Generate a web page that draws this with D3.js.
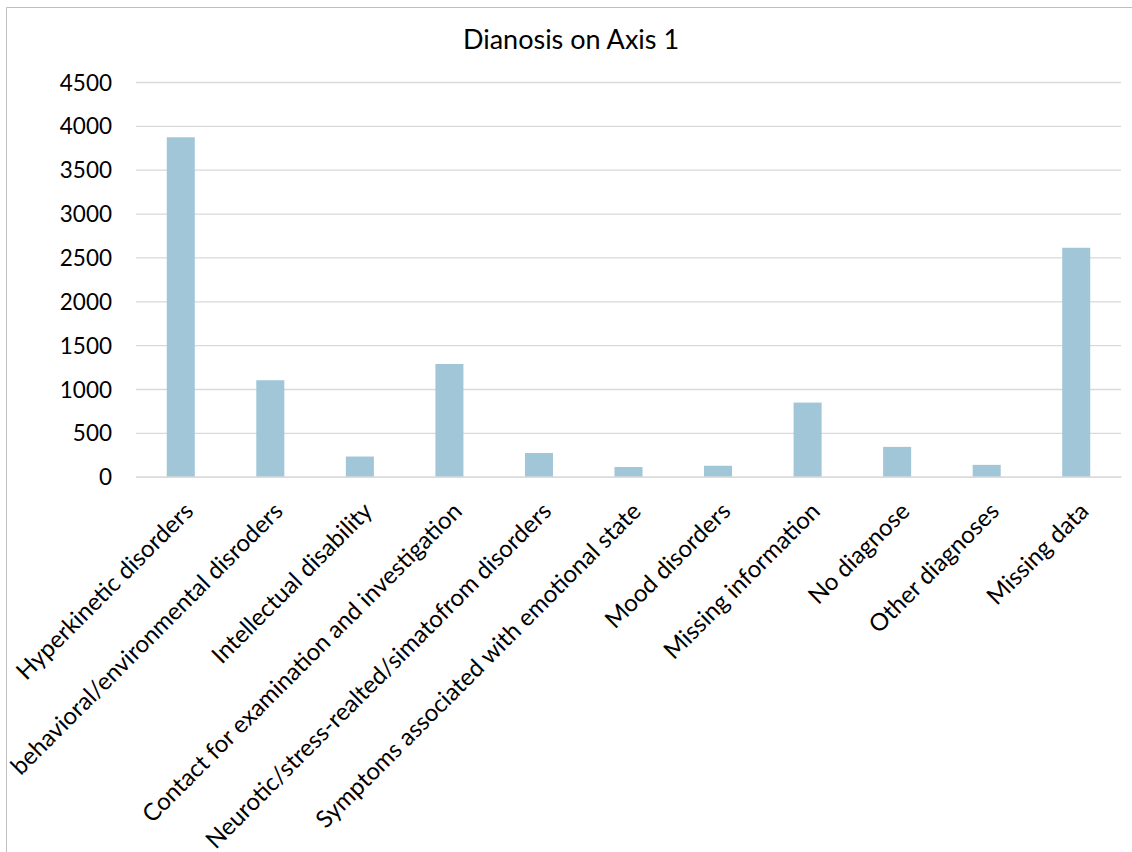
<!DOCTYPE html>
<html>
<head>
<meta charset="utf-8">
<script src="https://cdn.jsdelivr.net/npm/d3@7"></script>
<style>
  html, body { margin: 0; padding: 0; background: #fff; }
  svg { display: block; }
  text { font-family: Lato, "Liberation Sans", sans-serif; fill: #000; }
</style>
</head>
<body>
<div id="chart"></div>
<script>
// Diagnosis counts on Axis 1
const categories = [
  "Hyperkinetic disorders",
  "behavioral/environmental disroders",
  "Intellectual disability",
  "Contact for examination and investigation",
  "Neurotic/stress-realted/simatofrom disorders",
  "Symptoms associated with emotional state",
  "Mood disorders",
  "Missing information",
  "No diagnose",
  "Other diagnoses",
  "Missing data"
];
const counts = [3870, 1100, 230, 1285, 270, 110, 125, 845, 340, 135, 2610];
const yTicks = [0, 500, 1000, 1500, 2000, 2500, 3000, 3500, 4000, 4500];
const title = "Dianosis on Axis 1";

const W = 1132, H = 852;
const plot = { left: 136, right: 1121, top: 82, bottom: 476.7 };

const svg = d3.select("#chart").append("svg")
  .attr("width", W).attr("height", H);

// chart frame (top and left edges)
svg.append("path")
  .attr("d", `M6.5,${H} V7.5 H${W}`)
  .attr("fill", "none")
  .attr("stroke", "#bfbfbf")
  .attr("stroke-width", 1);

const x = d3.scaleBand()
  .domain(categories)
  .range([plot.left, plot.right])
  .paddingInner(0.687)
  .paddingOuter(0.3435);

const y = d3.scaleLinear()
  .domain([0, 4500])
  .range([plot.bottom, plot.top]);

// gridlines + y labels
const yAxis = d3.axisLeft(y)
  .tickValues(yTicks)
  .tickFormat(d3.format("d"))
  .tickSize(-(plot.right - plot.left))
  .tickPadding(24);

const gy = svg.append("g")
  .attr("transform", `translate(${plot.left},0)`)
  .call(yAxis);
gy.select(".domain").remove();
gy.selectAll(".tick line").attr("stroke", "#d9d9d9").attr("stroke-width", 1.3);
gy.selectAll(".tick text")
  .style("font-size", "22.5px")
  .attr("dy", "0.36em")
  .attr("fill", "#000");

// bars
svg.append("g").selectAll("rect")
  .data(categories)
  .join("rect")
  .attr("x", d => x(d))
  .attr("width", x.bandwidth())
  .attr("y", (d, i) => y(counts[i]))
  .attr("height", (d, i) => y(0) - y(counts[i]))
  .attr("fill", "#a0c6d8");

// category labels, rotated -45°
const xAxis = d3.axisBottom(x).tickSize(0).tickPadding(0);
const gx = svg.append("g")
  .attr("transform", `translate(0,${plot.bottom})`)
  .call(xAxis);
gx.select(".domain").attr("stroke", "#d9d9d9").attr("stroke-width", 1.3);
gx.selectAll(".tick text")
  .style("font-size", "24px")
  .attr("fill", "#000")
  .attr("text-anchor", "end")
  .attr("dy", null)
  .attr("y", 0)
  .attr("transform", "translate(14,36) rotate(-45)");

// title
svg.append("text")
  .attr("x", W / 2 + 5)
  .attr("y", 49)
  .attr("text-anchor", "middle")
  .style("font-size", "27px")
  .text(title);
</script>
</body>
</html>
